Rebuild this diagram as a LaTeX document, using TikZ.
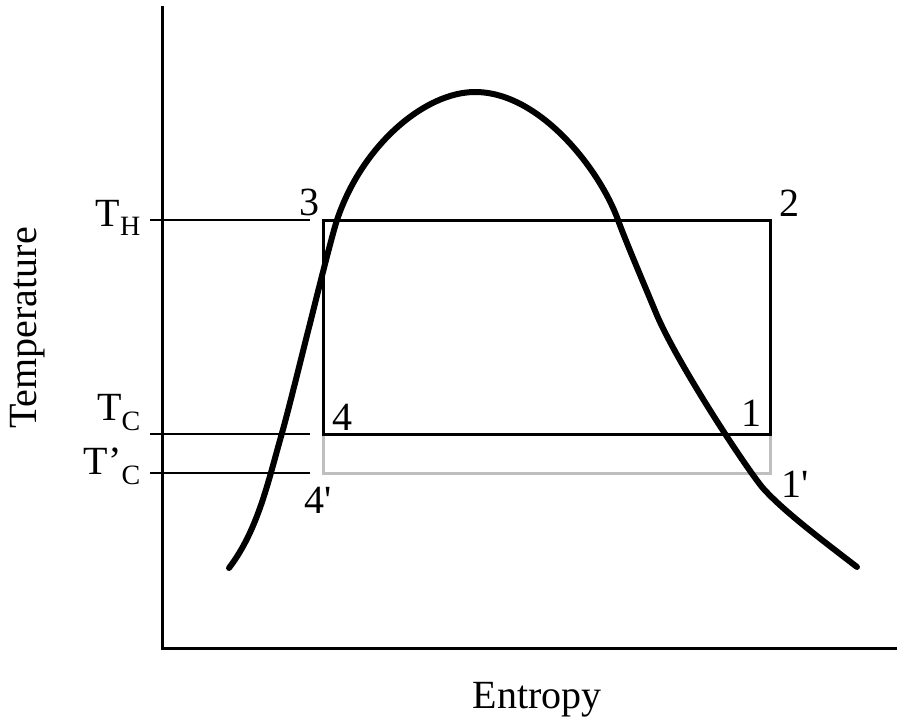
\documentclass[tikz,border=0pt]{standalone}
\usepackage{fontspec}
\setmainfont{Liberation Serif}
\begin{document}
\begin{tikzpicture}[x=1pt,y=-1pt,
  lbl/.style={font=\fontsize{40}{46}\selectfont, inner sep=0pt},
  axisline/.style={line width=3pt},
  tickline/.style={line width=2pt},
  cycleline/.style={line width=3pt},
  domeline/.style={line width=6pt, line cap=round, line join=round}]
\useasboundingbox (0,0) rectangle (900,725);
% axes
\draw[axisline] (162,6) -- (162,648) -- (897,648);
% tick lines
\draw[tickline] (150,220) -- (310,220);
\draw[tickline] (150,434) -- (310,434);
\draw[tickline] (150,473) -- (310,473);
% gray lowered cycle
\draw[cycleline, color=black!25] (323,434) -- (323,473) -- (770,473) -- (770,434);
% cycle rectangle
\draw[cycleline] (323,220) rectangle (770,434);
% saturation dome
\draw[domeline] (229,568)
  .. controls (258,530) and (268,482) .. (282,433)
  .. controls (292,398) and (329,244) .. (337,220)
  .. controls (362,145) and (425,92) .. (475,92)
  .. controls (540,92) and (600,170) .. (618,220)
  .. controls (626,242) and (644,284) .. (656,313)
  .. controls (676,361) and (742,462) .. (762,487)
  .. controls (782,510) and (822,540) .. (857,567);
% labels
\node[lbl] (n3) at (309,202) {3};
\node[lbl] (n2) at (789,203) {2};
\node[lbl] (n4) at (342,417) {4};
\node[lbl] (n1) at (751,413) {1};
\node[lbl] (n4p) at (318,500) {4\textquotesingle};
\node[lbl] (n1p) at (795,484) {1\textquotesingle};
\node[lbl, anchor=east] (th) at (141,218) {T\textsubscript{H}};
\node[lbl, anchor=east] (tc) at (141,413) {T\textsubscript{C}};
\node[lbl, anchor=east] (tcp) at (141,466) {T’\textsubscript{C}};
\node[lbl, rotate=90] (ylab) at (28,328) {Temperature};
\node[lbl] (xlab) at (537,700) {Entropy};
\end{tikzpicture}
\end{document}
